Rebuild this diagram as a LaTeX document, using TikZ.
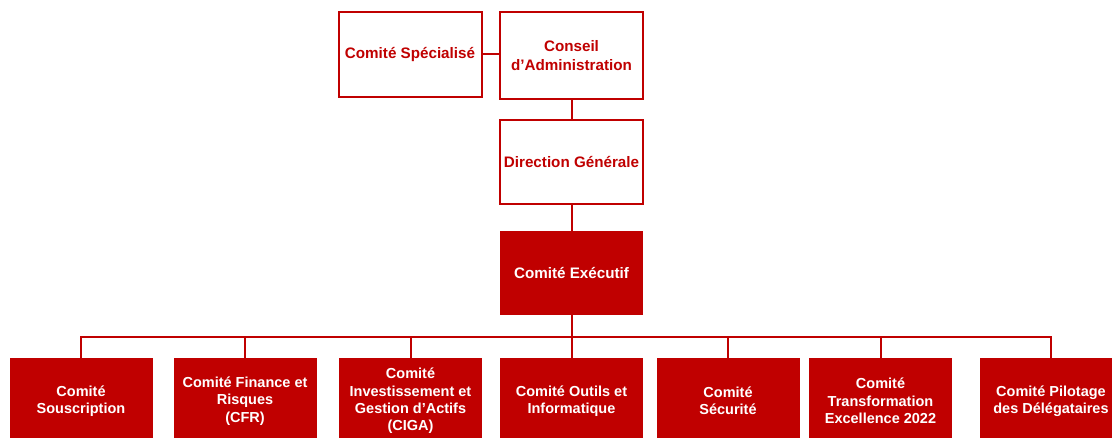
\documentclass[tikz,border=0pt]{standalone}
\usepackage{fontspec}
\setmainfont{Liberation Sans}
\definecolor{cred}{HTML}{C00000}
\begin{document}
\begin{tikzpicture}[x=1pt,y=-1pt,
  every node/.style={font=\bfseries\fontsize{15.2}{18.5}\selectfont},
  outbox/.style={draw=cred,line width=2pt,fill=white,text=cred,align=center,minimum width=143pt,minimum height=85pt,inner sep=0pt},
  fillbox/.style={fill=cred,text=white,align=center,minimum width=143pt,minimum height=84pt,inner sep=0pt},
  lowtext/.style={text=white,align=center,inner sep=0pt,font=\bfseries\fontsize{14.5}{17.3}\selectfont},
  link/.style={draw=cred,line width=2pt}]
\clip (0,0) rectangle (1112,438);
\fill[white] (0,0) rectangle (1112,438);
\node[outbox] (spec) at (410,54.5) {Comité Spécialisé};
\node[outbox,minimum height=87pt] (ca) at (571.5,55.5) {Conseil\\d’Administration};
\node[outbox,minimum height=84pt] (dg) at (571.5,162) {Direction Générale};
\node[fillbox] (ce) at (571.5,273) {Comité Exécutif};
\node[fillbox] (b1) at (81,400) {};
\node[fillbox] (b2) at (245,400) {};
\node[fillbox] (b3) at (410.5,400) {};
\node[fillbox] (b4) at (571.5,400) {};
\node[fillbox] (b5) at (728,400) {};
\node[fillbox] (b6) at (880.5,400) {};
\node[fillbox] (b7) at (1051,400) {};
\node[lowtext] (t1) at (81,401) {Comité\\Souscription};
\node[lowtext] (t2) at (245,401) {Comité Finance et\\Risques\\(CFR)};
\node[lowtext] (t3) at (410.5,401) {Comité\\Investissement et\\Gestion d’Actifs\\(CIGA)};
\node[lowtext] (t4) at (571.5,401) {Comité Outils et\\Informatique};
\node[lowtext] (t5) at (728,401) {Comité\\Sécurité};
\node[lowtext] (t6) at (880.5,401) {Comité\\Transformation\\Excellence 2022};
\node[lowtext] (t7) at (1051,401) {Comité Pilotage\\des Délégataires};
\coordinate (hub) at (571.5,337);
\draw[link] (spec.east) -- (ca.west |- spec.east);
\draw[link] (ca.south) -- (dg.north);
\draw[link] (dg.south) -- (ce.north);
\draw[link] (ce.south) -- (hub);
\draw[link] (b1.north) -- (b1.north |- hub) -- (b7.north |- hub) -- (b7.north);
\foreach \b in {b2,b3,b4,b5,b6}{
  \draw[link] (\b.north |- hub) -- (\b.north);
}
\end{tikzpicture}
\end{document}
